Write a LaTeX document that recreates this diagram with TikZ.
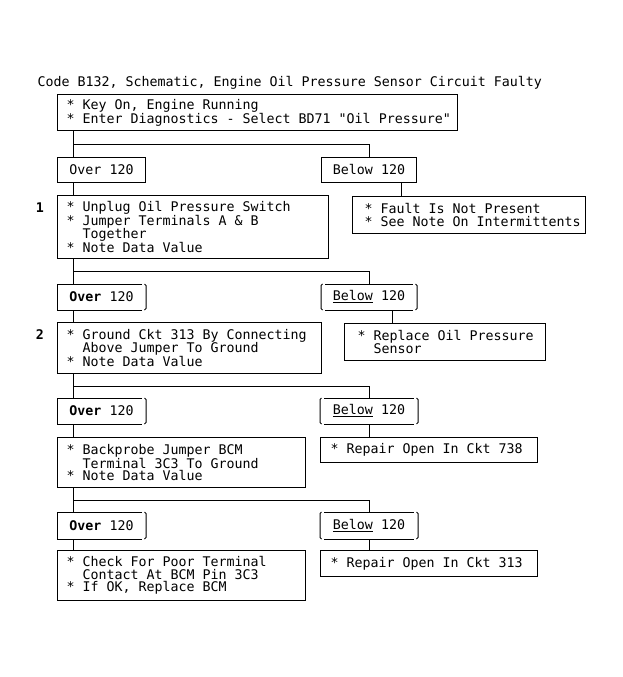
\documentclass[tikz,border=0pt]{standalone}
\usepackage{fontspec}
\newfontfamily\dmono{DejaVu Sans Mono}
\newcommand\itm[1]{\mbox{*\ #1}}
\newcommand\cnt[1]{\mbox{\hphantom{*\ }#1}}
\setlength\lineskiplimit{-20pt}
\begin{document}
\begin{tikzpicture}[x=1pt,y=-1pt,line width=1pt,
  every node/.style={font=\dmono\fontsize{13.3}{12.4}\selectfont},
  stepbox/.style={draw,anchor=north west,align=flush left,inner ysep=0pt},
  tag/.style={anchor=north west,inner sep=0pt,minimum width=88pt,minimum height=25pt},
  num/.style={inner sep=0pt}]
  \useasboundingbox (0,0) rectangle (623,677);
  % heading
  \node[anchor=base west,inner sep=0pt] (title) at (37,86) {Code B132, Schematic, Engine Oil Pressure Sensor Circuit Faulty};
  %%%% start
  \node[stepbox,text width=382pt,inner xsep=9pt,minimum height=36pt] (keyon) at (57,94)
    {\itm{Key On, Engine Running}\\\itm{Enter Diagnostics - Select BD71 "Oil Pressure"}};
  \node[tag,draw] (over1) at (57,157) {Over 120};
  \node[tag,draw,minimum width=95pt] (below1) at (321,157) {Below 120};
  \node[stepbox,text width=209pt,inner xsep=12pt,minimum height=37pt] (fault) at (352,196)
    {\itm{Fault Is Not Present}\\\itm{See Note On Intermittents}};
  %%%% step 1
  \node[num] (n1) at (40,208) {\bfseries 1};
  \node[stepbox,text width=253pt,inner xsep=9pt,minimum height=63pt] (step1) at (57,195)
    {\itm{Unplug Oil Pressure Switch}\\\itm{Jumper Terminals A \& B}\\\cnt{Together}\\\itm{Note Data Value}};
  \node[tag] (over2) at (57,284) {\textbf{Over} 120};
  \node[tag,minimum width=95pt] (below2) at (321,284) {\underline{Below} 120};
  \node[stepbox,text width=175pt,inner xsep=13pt,minimum height=37pt] (replace) at (344,323)
    {\itm{Replace Oil Pressure}\\\cnt{Sensor}};
  %%%% step 2
  \node[num] (n2) at (40,335) {\bfseries 2};
  \node[stepbox,text width=246pt,inner xsep=9pt,minimum height=51pt] (step2) at (57,322)
    {\itm{Ground Ckt 313 By Connecting}\\\cnt{Above Jumper To Ground}\\\itm{Note Data Value}};
  \node[tag] (over3) at (57,398) {\textbf{Over} 120};
  \node[tag,minimum width=97pt] (below3) at (320,398) {\underline{Below} 120};
  \node[stepbox,text width=197pt,inner xsep=10pt,minimum height=25pt] (rep738) at (320,437)
    {\itm{Repair Open In Ckt 738}};
  %%%% step 3
  \node[stepbox,text width=230pt,inner xsep=9pt,minimum height=50pt] (step3) at (57,437)
    {\itm{Backprobe Jumper BCM}\\\cnt{Terminal 3C3 To Ground}\\\itm{Note Data Value}};
  \node[tag,minimum height=26pt] (over4) at (57,512) {\textbf{Over} 120};
  \node[tag,minimum width=97pt,minimum height=26pt] (below4) at (320,512) {\underline{Below} 120};
  \node[stepbox,text width=197pt,inner xsep=10pt,minimum height=26pt] (rep313) at (320,550)
    {\itm{Repair Open In Ckt 313}};
  %%%% step 4
  \node[stepbox,text width=230pt,inner xsep=9pt,minimum height=50pt] (step4) at (57,550)
    {\itm{Check For Poor Terminal}\\\cnt{Contact At BCM Pin 3C3}\\\itm{If OK, Replace BCM}};
  %% bracket sides
  \foreach \n in {over2,over3,over4}
  {
    \draw ([xshift=-4pt]\n.north east) -- (\n.north west) -- (\n.south west) -- ([xshift=-4pt]\n.south east);
    \draw ([xshift=-1.5pt]\n.north east) -- ([yshift=-1.5pt]\n.north east) -- ([yshift=1.5pt]\n.south east) -- ([xshift=-1.5pt]\n.south east);
  }
  \foreach \n in {below2,below3,below4}
  {
    \draw ([xshift=4pt]\n.north west) -- ([xshift=-4pt]\n.north east);
    \draw ([xshift=4pt]\n.south west) -- ([xshift=-4pt]\n.south east);
    \draw ([xshift=1.5pt]\n.north west) -- ([yshift=-1.5pt]\n.north west) -- ([yshift=1.5pt]\n.south west) -- ([xshift=1.5pt]\n.south west);
    \draw ([xshift=-1.5pt]\n.north east) -- ([yshift=-1.5pt]\n.north east) -- ([yshift=1.5pt]\n.south east) -- ([xshift=-1.5pt]\n.south east);
  }
  %% the trunk, with a branch to the right
  \foreach \a/\b/\c in {keyon/over1/below1,step1/over2/below2,step2/over3/below3,step3/over4/below4}
  {
    \draw ([xshift=16pt]\a.south west) -- coordinate (j) ([xshift=16pt]\b.north west);
    \draw (j) -| (\c.north);
  }
  \foreach \a/\b in {over1/step1,over2/step2,over3/step3,over4/step4}
    \draw ([xshift=16pt]\a.south west) -- ([xshift=16pt]\b.north west);
  %% below 120
  \draw ([xshift=-16pt]below1.south east) -- ([xshift=-16pt]below1.south east |- fault.north);
  \draw ([xshift=48pt]replace.north west) -- ([xshift=48pt]replace.north west |- below2.south);
  \draw (below3.south) -- (below3.south |- rep738.north);
  \draw (below4.south) -- (below4.south |- rep313.north);
\end{tikzpicture}
\end{document}
